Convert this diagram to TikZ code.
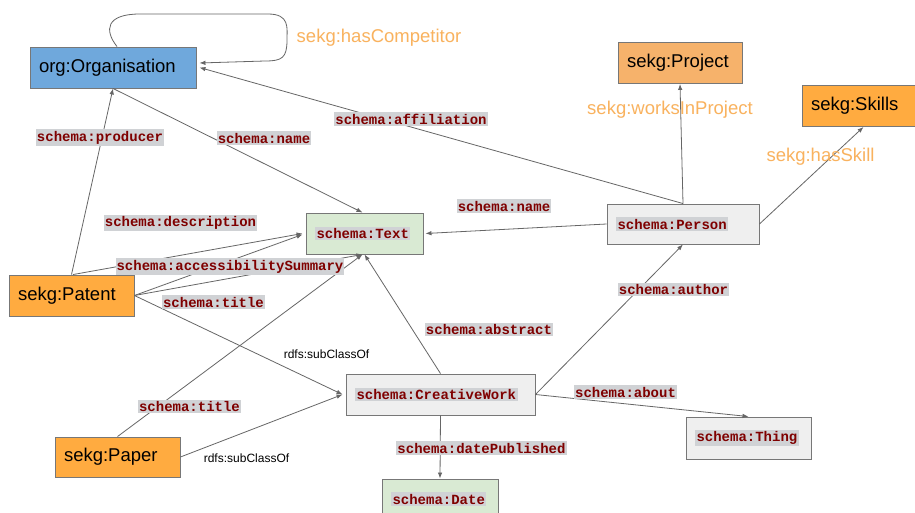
\documentclass[tikz,border=0pt]{standalone}
\usepackage{fontspec}
\setmainfont{Liberation Sans}
\setmonofont{Liberation Mono}
\usetikzlibrary{positioning,arrows.meta}
\definecolor{orgblue}{HTML}{6FA8DC}
\definecolor{projorange}{HTML}{F6B26B}
\definecolor{sekgorange}{HTML}{FFAB40}
\definecolor{classgray}{HTML}{EFEFEF}
\definecolor{textgreen}{HTML}{D9EAD3}
\definecolor{labelgray}{HTML}{D0D2D5}
\definecolor{schemared}{HTML}{7F0000}
\definecolor{proporange}{HTML}{F9B25E}
\definecolor{linegray}{HTML}{666666}
\definecolor{boxgray}{HTML}{777777}
\newcommand{\schemaname}[1]{{\setlength{\fboxsep}{1.5pt}\colorbox{labelgray}{\textcolor{schemared}{\ttfamily\bfseries\fontsize{14pt}{14pt}\selectfont #1}}}}
\tikzset{
  flowarrow/.style={-{Latex[length=6pt,width=4.5pt]}, draw=linegray, line width=0.8pt},
  classbox/.style={draw=boxgray, line width=0.9pt, inner xsep=9pt, align=left, minimum height=41pt, font=\fontsize{18.5pt}{20pt}\selectfont},
  sekgbox/.style={classbox, fill=sekgorange},
  schemabox/.style={classbox, fill=classgray},
  valuebox/.style={classbox, fill=textgreen},
  relabel/.style={fill=labelgray, text=schemared, font=\ttfamily\bfseries\fontsize{14pt}{14pt}\selectfont, inner xsep=1pt, inner ysep=1.5pt},
  proplabel/.style={text=proporange, font=\fontsize{18.5pt}{20pt}\selectfont, inner sep=0pt},
  sublabel/.style={font=\fontsize{12pt}{14pt}\selectfont, inner sep=0pt}
}
\begin{document}
\begin{tikzpicture}[x=1pt, y=-1pt]
  \path[use as bounding box] (0,0) rectangle (915,513);
  \fill[white] (0,0) rectangle (915,513);
  \clip (0,0) rectangle (915,513);
  % classes
  \node[classbox, fill=orgblue, text width=148pt] (org) at (113,67.5) {org:Organisation};
  \node[classbox, fill=projorange, text width=106pt] (project) at (680,63) {sekg:Project};
  \node[sekgbox, text width=97pt] (skills) at (859.5,106) {sekg:Skills};
  \node[schemabox, text width=134pt, minimum height=40pt] (person) at (683,224) {\schemaname{schema:Person}};
  \node[valuebox, text width=99pt] (text) at (364.5,233.5) {\schemaname{schema:Text}};
  \node[sekgbox, text width=107pt] (patent) at (71.5,295.5) {sekg:Patent};
  \node[sekgbox, text width=107pt, minimum height=40pt] (paper) at (117.5,457) {sekg:Paper};
  \node[schemabox, text width=171pt] (work) at (440.5,394.5) {\schemaname{schema:CreativeWork}};
  \node[schemabox, text width=107pt, minimum height=42pt] (thing) at (748.5,438) {\schemaname{schema:Thing}};
  \node[valuebox, text width=98pt, minimum height=40pt] (date) at (440,499) {\schemaname{schema:Date}};
  % relations
  \draw[flowarrow] ([xshift=4pt]org.north) .. controls (104,30) and (106,14) .. (140,14)
    -- (268,14) .. controls (290,14) and (287,28) .. (287,40)
    .. controls (287,58) and (282,61) .. (265,61) -- ([xshift=3pt,yshift=4.5pt]org.east);
  \draw[flowarrow] (person.north) -- ([xshift=3pt]org.east);
  \draw[flowarrow] (patent.north) -- (org.south);
  \draw[flowarrow] (org.south) -- ([xshift=-2pt]text.north);
  \draw[flowarrow] (person.west) -- ([xshift=2pt]text.east);
  \draw[flowarrow] ([xshift=1.5pt]patent.north) -- ([xshift=-3pt]text.west);
  \draw[flowarrow] (patent.east) -- ([xshift=-3pt,yshift=-1pt]text.west);
  \draw[flowarrow] (patent.east) -- ([xshift=-2pt]text.south);
  \draw[flowarrow] (paper.north) -- ([xshift=-2pt]text.south);
  \draw[flowarrow] (patent.east) -- ([xshift=-3pt]work.west);
  \draw[flowarrow] (paper.east) -- ([xshift=-3pt]work.west);
  \draw[flowarrow] (work.north) -- (text.south);
  \draw[flowarrow] (work.east) -- (person.south);
  \draw[flowarrow] (work.east) -- (thing.north);
  \draw[flowarrow] (work.south) -- (date.north);
  \draw[flowarrow] (person.north) -- (project.south);
  \draw[flowarrow] (person.east) -- ([xshift=4pt]skills.south);
  % labels
  \node[proplabel] (lcompetitor) at (379,38) {sekg:hasCompetitor};
  \node[proplabel] (lworks) at (670,110) {sekg:worksInProject};
  \node[proplabel] (lskill) at (820.5,157) {sekg:hasSkill};
  \node[relabel] (laffiliation) at (411,119) {schema:affiliation};
  \node[relabel] (lproducer) at (100,137.5) {schema:producer};
  \node[relabel] (lorgname) at (264,138) {schema:name};
  \node[relabel] (lpersonname) at (504,206) {schema:name};
  \node[relabel] (ldescription) at (180.5,223) {schema:description};
  \node[relabel] (laccess) at (230,266.5) {schema:accessibilitySummary};
  \node[relabel] (lpatenttitle) at (213.5,302) {schema:title};
  \node[relabel] (lpapertitle) at (189.5,406.5) {schema:title};
  \node[relabel] (labstract) at (489,329.5) {schema:abstract};
  \node[relabel] (lauthor) at (673.5,289.5) {schema:author};
  \node[relabel] (labout) at (625.5,392) {schema:about};
  \node[relabel] (ldate) at (481.5,448) {schema:datePublished};
  \node[sublabel] (lpatentsub) at (326.5,354.5) {rdfs:subClassOf};
  \node[sublabel] (lpapersub) at (246.5,458) {rdfs:subClassOf};
\end{tikzpicture}
\end{document}
